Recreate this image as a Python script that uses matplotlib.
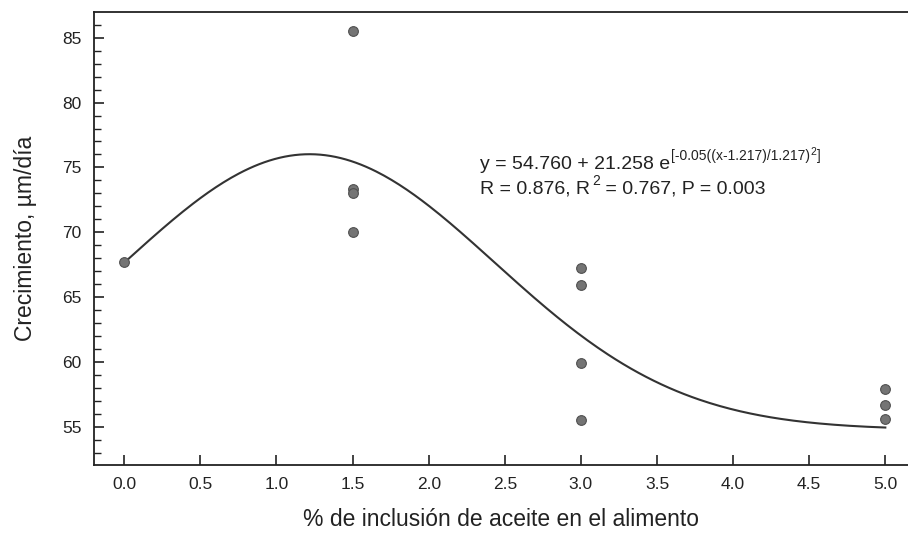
import numpy as np
import matplotlib.pyplot as plt
from matplotlib.ticker import MultipleLocator

plt.rcParams['font.family'] = ['Liberation Sans', 'DejaVu Sans']

# Observed growth values per oil inclusion level
x_obs = [0.0, 1.5, 1.5, 1.5, 1.5, 3.0, 3.0, 3.0, 3.0, 5.0, 5.0, 5.0]
y_obs = [67.7, 85.5, 73.3, 73.0, 70.0, 67.2, 65.9, 59.9, 55.5, 57.9, 56.7, 55.6]

# Fitted gaussian model parameters (from the equation on the chart)
y0 = 54.760
a = 21.258
x0 = 1.217
b = 1.217

x_fit = np.linspace(0.0, 5.0, 300)
y_fit = y0 + a * np.exp(-0.5 * ((x_fit - x0) / b) ** 2)

txt_color = '#222222'

fig = plt.figure(figsize=(9.08, 5.36), dpi=100)
ax = fig.add_axes([0.1035, 0.1325, 0.8965, 0.8451])

ax.plot(x_fit, y_fit, color='#333333', lw=1.5, zorder=2)
ax.plot(x_obs, y_obs, 'o', ms=7, mfc='#747474', mec='#505050', mew=0.8, zorder=3)

ax.set_xlim(-0.199, 5.149)
ax.set_ylim(52.04, 86.99)

ax.xaxis.set_major_locator(MultipleLocator(0.5))
ax.yaxis.set_major_locator(MultipleLocator(5))
ax.yaxis.set_minor_locator(MultipleLocator(1))
ax.xaxis.set_major_formatter(plt.FuncFormatter(lambda v, p: f'{v:.1f}'))

ax.tick_params(axis='both', which='major', direction='in', length=7, width=1.2,
               labelsize=12.5, colors=txt_color)
ax.tick_params(axis='y', which='minor', direction='in', length=5, width=1.0, colors=txt_color)
ax.tick_params(axis='x', pad=9)
ax.tick_params(axis='y', pad=9)

for s in ['left', 'bottom', 'top']:
    ax.spines[s].set_linewidth(1.3)
    ax.spines[s].set_color(txt_color)
ax.spines['right'].set_visible(False)

ax.set_xlabel('% de inclusión de aceite en el alimento', fontsize=16.5, color=txt_color, labelpad=11)
ax.set_ylabel('Crecimiento, µm/día', fontsize=16.5, color=txt_color, labelpad=18)

# equation, line 1 (built from pieces so the superscripts stay upright)
fs_main = 14
fs_sup = 10
fs_sup2 = 7.5
t1 = ax.text(2.337, 74.55, 'y = 54.760 + 21.258 e', fontsize=fs_main, color=txt_color, va='bottom')
t2 = ax.annotate('[-0.05((x-1.217)/1.217)', xy=(1, 0), xycoords=t1, xytext=(0.5, 7.5),
                 textcoords='offset points', fontsize=fs_sup, color=txt_color, va='bottom')
t3 = ax.annotate('2', xy=(1, 0), xycoords=t2, xytext=(0.3, 4),
                 textcoords='offset points', fontsize=fs_sup2, color=txt_color, va='bottom')
ax.annotate(']', xy=(1, 0), xycoords=(t3, t2), xytext=(0.5, 0),
            textcoords='offset points', fontsize=fs_sup, color=txt_color, va='bottom')

# line 2
t5 = ax.text(2.337, 72.7, 'R = 0.876, R', fontsize=fs_main, color=txt_color, va='bottom')
t6 = ax.annotate('2', xy=(1, 0), xycoords=t5, xytext=(1.5, 6.5),
                 textcoords='offset points', fontsize=fs_sup, color=txt_color, va='bottom')
ax.annotate(' = 0.767, P = 0.003', xy=(1, 0), xycoords=(t6, t5), xytext=(0, 0),
            textcoords='offset points', fontsize=fs_main, color=txt_color, va='bottom')

fig.savefig('out.png', dpi=100)
